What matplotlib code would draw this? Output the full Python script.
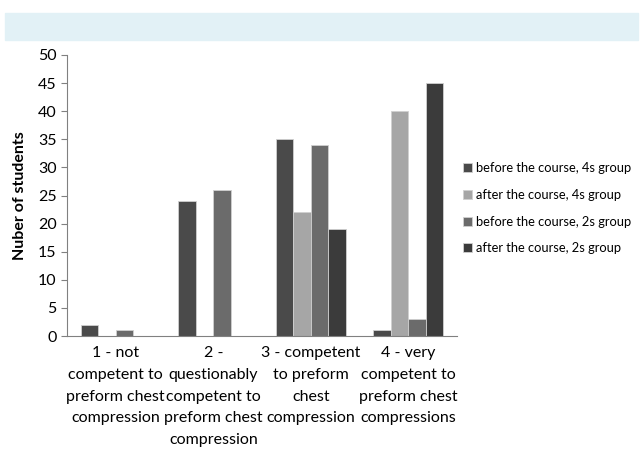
import numpy as np
import matplotlib.pyplot as plt
from matplotlib.patches import Rectangle

plt.rcParams['font.family'] = ['Lato', 'DejaVu Sans']

categories = ["1 - not\ncompetent to\npreform chest\ncompression",
              "2 -\nquestionably\ncompetent to\npreform chest\ncompression",
              "3 - competent\nto preform\nchest\ncompression",
              "4 - very\ncompetent to\npreform chest\ncompressions"]
series_names = ["before the course, 4s group", "after the course, 4s group",
                "before the course, 2s group", "after the course, 2s group"]
before_4s = [2, 24, 35, 1]
after_4s = [0, 0, 22, 40]
before_2s = [1, 26, 34, 3]
after_2s = [0, 0, 19, 45]
colors = ["#4a4a4a", "#a6a6a6", "#6b6b6b", "#3b3b3b"]

fig = plt.figure(figsize=(6.41, 4.59), dpi=100)
# light blue title strip
fig.patches.append(Rectangle((5/641, 1 - 40/459), 633/641, 27/459,
                             transform=fig.transFigure, color="#e2f1f6", zorder=0))

ax = fig.add_axes([67/641, 1 - 336/459, 390/641, 281/459])
x = np.arange(len(categories))
w = 0.18
for i, (vals, c, name) in enumerate(zip([before_4s, after_4s, before_2s, after_2s], colors, series_names)):
    ax.bar(x + (i - 1.5) * w, vals, w, color=c, edgecolor="#d0d0d0", linewidth=0.6, label=name)

ax.set_xlim(-0.5, 3.5)
ax.set_ylim(0, 50)
ax.set_yticks(range(0, 51, 5))
ax.set_xticks(x)
ax.set_xticklabels(categories, fontsize=11.5, linespacing=1.72, va="top")
ax.tick_params(axis="x", length=0, pad=7)
ax.tick_params(axis="y", labelsize=11.5, length=4, color="#808080")
for s in ["top", "right"]:
    ax.spines[s].set_visible(False)
ax.spines["left"].set_color("#808080")
ax.spines["bottom"].set_color("#808080")
ax.set_ylabel("Nuber of students", fontsize=11.5, fontweight="bold", labelpad=8)

ax.legend(loc="center left", bbox_to_anchor=(0.985, 0.455), frameon=False, fontsize=9.3,
          handlelength=0.7, handleheight=0.7, handletextpad=0.35, labelspacing=1.15)

fig.savefig("out.png", dpi=100)
